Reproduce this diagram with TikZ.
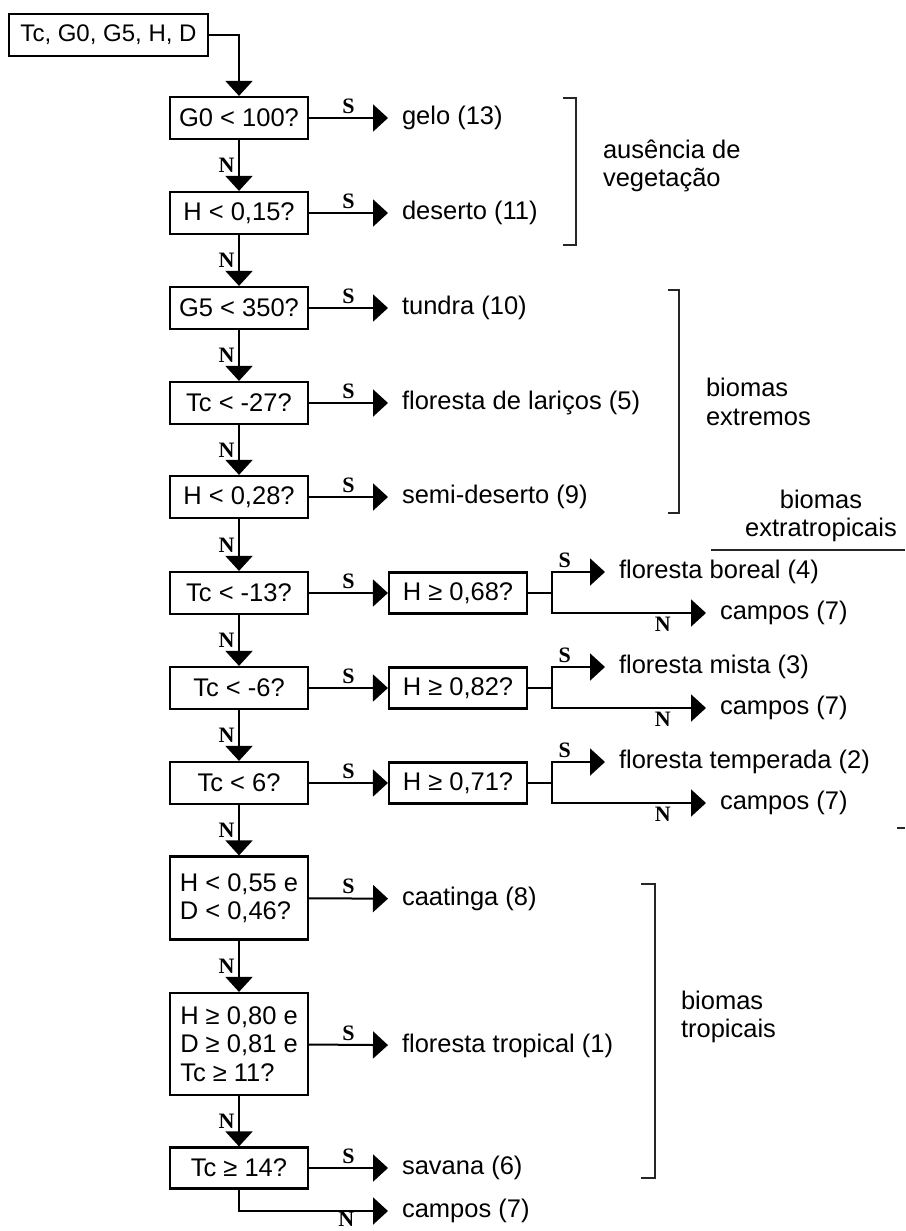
\documentclass[tikz,border=0pt]{standalone}
\usepackage{fontspec}
\setmainfont{Liberation Sans}
\newfontfamily\lblfont{Liberation Serif}
\usetikzlibrary{arrows.meta}

\begin{document}
\begin{tikzpicture}[x=1pt,y=-1pt,line width=2pt,>={Triangle[length=15pt,width=27pt]},
	font=\fontsize{25.5}{28.5}\selectfont,
	cond/.style={draw,line width=2.2pt,minimum width=138pt,minimum height=42pt,inner sep=2pt,align=center},
	res/.style={anchor=west,inner xsep=13pt,inner ysep=0pt},
	grp/.style={anchor=west,align=left,inner sep=0pt},
	lbl/.style={font=\lblfont\bfseries\fontsize{22}{22}\selectfont,inner sep=3.5pt},
	bracket/.style={line width=1.6pt,black!85}]
	\useasboundingbox (0,0) rectangle (905,1231);
	\node[cond,minimum width=199pt,font=\fontsize{24}{28}\selectfont] (in) at (108.5,35) {Tc, G0, G5, H, D};
	\node[cond] (q1) at (239,118) {G0 < 100?};
	\node[cond] (q2) at (239,213) {H < 0,15?};
	\node[cond] (q3) at (239,308) {G5 < 350?};
	\node[cond] (q4) at (239,403) {Tc < -27?};
	\node[cond] (q5) at (239,497) {H < 0,28?};
	\node[cond] (q6) at (239,593) {Tc < -13?};
	\node[cond] (q7) at (239,688) {Tc < -6?};
	\node[cond] (q8) at (239,783) {Tc < 6?};
	\node[cond,minimum height=83pt,align=left] (q9) at (239,898) {H < 0,55 e\\D < 0,46?};
	\node[cond,minimum height=102pt,align=left] (q10) at (239,1044) {H ≥ 0,80 e\\D ≥ 0,81 e\\Tc ≥ 11?};
	\node[cond,minimum height=41pt] (q11) at (239,1168) {Tc ≥ 14?};
	\node[cond,minimum height=41pt] (h1) at (458,593) {H ≥ 0,68?};
	\node[cond,minimum height=41pt] (h2) at (458,688) {H ≥ 0,82?};
	\node[cond,minimum height=41pt] (h3) at (458,783) {H ≥ 0,71?};
	\node[res] (r1) at (388,118) {gelo (13)};
	\node[res] (r2) at (388,213) {deserto (11)};
	\node[res] (r3) at (388,308) {tundra (10)};
	\node[res] (r4) at (388,403) {floresta de lariços (5)};
	\node[res] (r5) at (388,497) {semi-deserto (9)};
	\node[res] (r6) at (388,899) {caatinga (8)};
	\node[res] (r7) at (388,1046) {floresta tropical (1)};
	\node[res] (r8) at (388,1168) {savana (6)};
	\node[res] (c4) at (388,1211) {campos (7)};
	\node[res] (b1) at (605,572) {floresta boreal (4)};
	\node[res] (c1) at (706,613) {campos (7)};
	\node[res] (b2) at (605,667) {floresta mista (3)};
	\node[res] (c2) at (706,708) {campos (7)};
	\node[res] (b3) at (605,762) {floresta temperada (2)};
	\node[res] (c3) at (706,803) {campos (7)};
	\draw[->] (in) -| (q1);
	\draw[->] (q1) -- node[left,lbl]{N} (q2);
	\draw[->] (q2) -- node[left,lbl]{N} (q3);
	\draw[->] (q3) -- node[left,lbl]{N} (q4);
	\draw[->] (q4) -- node[left,lbl]{N} (q5);
	\draw[->] (q5) -- node[left,lbl]{N} (q6);
	\draw[->] (q6) -- node[left,lbl]{N} (q7);
	\draw[->] (q7) -- node[left,lbl]{N} (q8);
	\draw[->] (q8) -- node[left,lbl]{N} (q9);
	\draw[->] (q9) -- node[left,lbl]{N} (q10);
	\draw[->] (q10) -- node[left,lbl]{N} (q11);
	\draw[->] (q1) -- node[above,lbl]{S} (r1);
	\draw[->] (q2) -- node[above,lbl]{S} (r2);
	\draw[->] (q3) -- node[above,lbl]{S} (r3);
	\draw[->] (q4) -- node[above,lbl]{S} (r4);
	\draw[->] (q5) -- node[above,lbl]{S} (r5);
	\draw[->] (q9) -- node[above,lbl]{S} (r6);
	\draw[->] (q10) -- node[above,lbl]{S} (r7);
	\draw[->] (q11) -- node[above,lbl]{S} (r8);
	\draw[->] (q11) |- node[pos=0.86,below,lbl,inner sep=0.5pt]{N} (c4);
	\draw[->] (q6) -- node[above,lbl]{S} (h1);
	\draw[->] (q7) -- node[above,lbl]{S} (h2);
	\draw[->] (q8) -- node[above,lbl]{S} (h3);
	\coordinate (j1) at (552,593);
	\coordinate (j2) at (552,688);
	\coordinate (j3) at (552,783);
	\draw (h1) -- (j1);
	\draw (h2) -- (j2);
	\draw (h3) -- (j3);
	\draw[->] (j1) |- node[pos=0.62,above,lbl]{S} (b1);
	\draw[->] (j1) |- node[pos=0.86,below,lbl]{N} (c1);
	\draw[->] (j2) |- node[pos=0.62,above,lbl]{S} (b2);
	\draw[->] (j2) |- node[pos=0.86,below,lbl]{N} (c2);
	\draw[->] (j3) |- node[pos=0.62,above,lbl]{S} (b3);
	\draw[->] (j3) |- node[pos=0.86,below,lbl]{N} (c3);
	\draw[bracket] (563,98) -- (576,98) -- (576,245) -- (563,245);
	\draw[bracket] (668,290) -- (679,290) -- (679,513) -- (668,513);
	\draw[bracket] (641,884) -- (655,884) -- (655,1178) -- (641,1178);
	\draw[bracket] (711,550) -- (905,550);
	\draw[bracket] (897,828) -- (905,828);
	\node[grp] (g1) at (602,166) {ausência de\\vegetação};
	\node[grp] (g2) at (705,402) {biomas\\extremos};
	\node[grp,anchor=center,align=center] (g3) at (821,516) {biomas\\extratropicais};
	\node[grp] (g4) at (680,1017) {biomas\\tropicais};
\end{tikzpicture}
\end{document}
